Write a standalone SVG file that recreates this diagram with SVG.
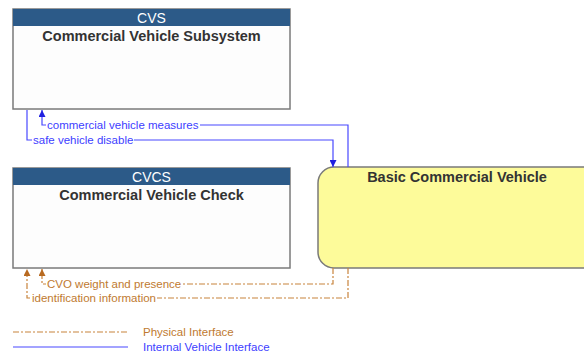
<svg xmlns="http://www.w3.org/2000/svg" width="584" height="354" viewBox="0 0 584 354">
<style>
.box{fill:#FDFDFD;stroke:#7A7A7A;stroke-width:1.5}
.hdr{fill:#2C5A88}
.hdrt{font-family:"Liberation Sans",Arial,sans-serif;font-size:14px;fill:#FFFFFF;text-anchor:middle}
.ttl{font-family:"Liberation Sans",Arial,sans-serif;font-size:14.5px;font-weight:bold;fill:#333333;text-anchor:middle}
.blue{fill:none;stroke:#4848FF;stroke-width:1.2}
.phys{fill:none;stroke:#C8843C;stroke-width:1.2;stroke-dasharray:6,2,2,2}
.lb{font-family:"Liberation Sans",Arial,sans-serif;font-size:11.5px;fill:#4040FF}
.lp{font-family:"Liberation Sans",Arial,sans-serif;font-size:11.5px;fill:#C07A30}
.bg{fill:#FFFFFF}
</style>
<defs>
<marker id="ab" markerWidth="7" markerHeight="7" refX="7" refY="3.5" orient="auto" markerUnits="userSpaceOnUse" viewBox="0 0 7 7"><path d="M0,0 L7,3.5 L0,7 Z" fill="#2020E0"/></marker>
<marker id="ao" markerWidth="7" markerHeight="7" refX="7" refY="3.5" orient="auto" markerUnits="userSpaceOnUse" viewBox="0 0 7 7"><path d="M0,0 L7,3.5 L0,7 Z" fill="#B86A20"/></marker>
</defs>
<rect width="584" height="354" fill="#FFFFFF"/>
<g id="cvs">
<rect class="box" x="13" y="9" width="277" height="100"/>
<rect class="hdr" x="13" y="9" width="277" height="17"/>
<text class="hdrt" x="151.5" y="22.5">CVS</text>
<text class="ttl" x="151.5" y="41">Commercial Vehicle Subsystem</text>
</g>
<g id="cvcs">
<rect class="box" x="13" y="168" width="277" height="100"/>
<rect class="hdr" x="13" y="168" width="277" height="17"/>
<text class="hdrt" x="151.5" y="181.5">CVCS</text>
<text class="ttl" x="151.5" y="200">Commercial Vehicle Check</text>
</g>
<g id="bcv">
<rect x="318" y="167" width="290" height="101" rx="16" ry="16" fill="#FDFB9A" stroke="#7A7A7A" stroke-width="1.5"/>
<text class="ttl" x="457" y="182">Basic Commercial Vehicle</text>
</g>
<g id="connectors">
<path class="blue" d="M348,167 V125 H42 V110"  marker-end="url(#ab)"/>
<path class="blue" d="M27,110 V140 H333 V167" marker-end="url(#ab)"/>
<path class="phys" d="M333,268 V284 H42 V269" marker-end="url(#ao)"/>
<path class="phys" d="M348,268 V298 H27 V269" marker-end="url(#ao)"/>
<rect class="bg" x="46" y="119" width="154" height="12"/>
<text class="lb" x="47" y="129">commercial vehicle measures</text>
<rect class="bg" x="32" y="134" width="102" height="12"/>
<text class="lb" x="33" y="144">safe vehicle disable</text>
<rect class="bg" x="46" y="278" width="135" height="12"/>
<text class="lp" x="47" y="288">CVO weight and presence</text>
<rect class="bg" x="31" y="292" width="126" height="12"/>
<text class="lp" x="32" y="302">identification information</text>
</g>
<g id="legend">
<line class="phys" x1="13" y1="332" x2="128" y2="332"/>
<text class="lp" x="143" y="336">Physical Interface</text>
<line class="blue" x1="13" y1="347" x2="128" y2="347"/>
<text class="lb" x="143" y="351">Internal Vehicle Interface</text>
</g>
</svg>
